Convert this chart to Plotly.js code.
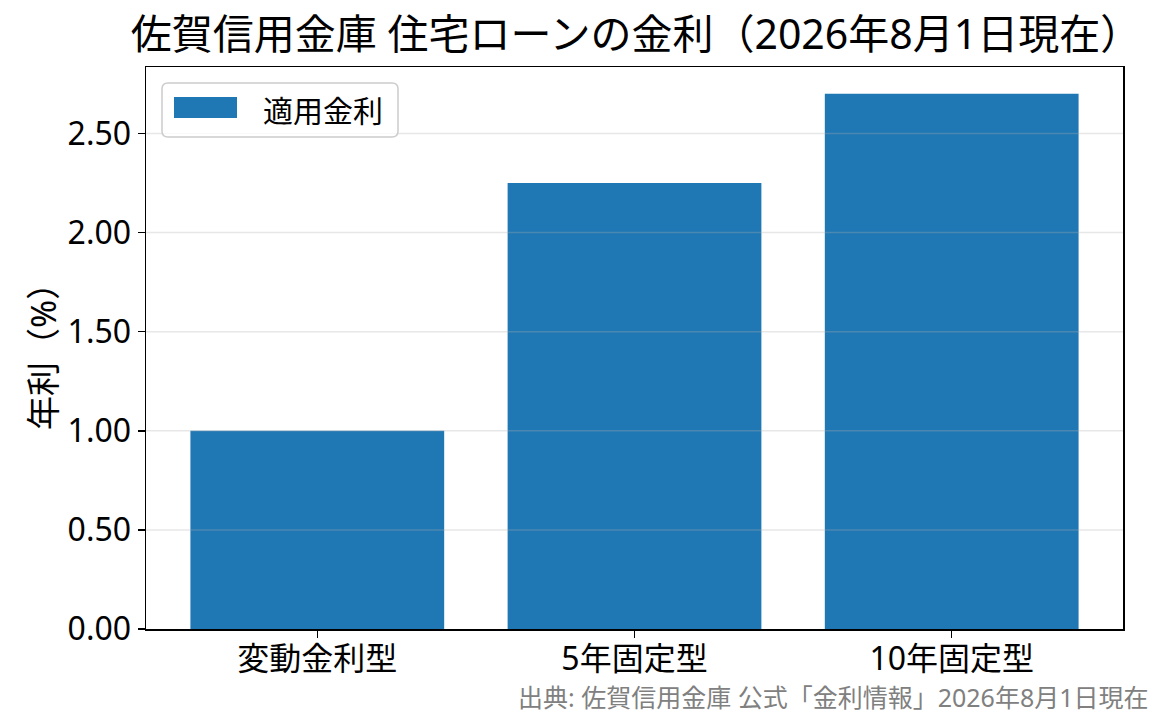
<!DOCTYPE html>
<html>
<head>
<meta charset="utf-8">
<script src="https://cdn.plot.ly/plotly-3.0.1.min.js"></script>
<style>
  html, body { margin: 0; padding: 0; background: #fff; }
  #chart { width: 1165px; height: 725px; }
</style>
</head>
<body>
<div id="chart"></div>
<script>
// data
var categories = ['変動金利型', '5年固定型', '10年固定型'];
var rates = [1.00, 2.25, 2.70];
var seriesName = '適用金利';
var yTicks = [0, 0.5, 1.0, 1.5, 2.0, 2.5];
var titleText = '佐賀信用金庫 住宅ローンの金利（2026年8月1日現在）';
var yTitle = '年利（%）';
var sourceText = '出典: 佐賀信用金庫 公式「金利情報」2026年8月1日現在';

var FONT = '"Noto Sans", "Noto Sans CJK JP", sans-serif';
var BLUE = '#1f77b4';

var W = 1165, H = 725;
var margin = {l: 146, r: 42, t: 67, b: 96};
var plotW = W - margin.l - margin.r;
var plotH = H - margin.t - margin.b;

// pixel -> paper helpers (for legend box placement only)
function px(x) { return (x - margin.l) / plotW; }
function py(y) { return (H - margin.b - y) / plotH; }

function roundedRect(x0, y0, x1, y1, r) {
  var rx = r / plotW, ry = r / plotH;
  var a = px(x0), b = px(x1), top = py(y0), bot = py(y1);
  return 'M' + (a + rx) + ',' + top +
    ' L' + (b - rx) + ',' + top +
    ' Q' + b + ',' + top + ' ' + b + ',' + (top - ry) +
    ' L' + b + ',' + (bot + ry) +
    ' Q' + b + ',' + bot + ' ' + (b - rx) + ',' + bot +
    ' L' + (a + rx) + ',' + bot +
    ' Q' + a + ',' + bot + ' ' + a + ',' + (bot + ry) +
    ' L' + a + ',' + (top - ry) +
    ' Q' + a + ',' + top + ' ' + (a + rx) + ',' + top + ' Z';
}

var trace = {
  type: 'bar',
  x: [0, 1, 2],
  y: rates,
  width: 0.8,
  name: seriesName,
  marker: {color: BLUE, line: {width: 0}},
  hoverinfo: 'x+y',
  showlegend: false
};

// grid lines drawn above the bars like the reference
var shapes = yTicks.slice(1).map(function (v) {
  return {
    type: 'line', xref: 'paper', yref: 'y',
    x0: 0, x1: 1, y0: v, y1: v,
    line: {color: 'rgba(176,176,176,0.3)', width: 1.5},
    layer: 'above'
  };
});

// legend box
shapes.push({
  type: 'path', xref: 'paper', yref: 'paper',
  path: roundedRect(162, 83, 398, 137, 6),
  fillcolor: 'rgba(255,255,255,0.8)',
  line: {color: '#cccccc', width: 1.5},
  layer: 'above'
});
shapes.push({
  type: 'rect', xref: 'paper', yref: 'paper',
  x0: px(174), x1: px(237), y0: py(118), y1: py(97),
  fillcolor: BLUE, line: {width: 0},
  layer: 'above'
});

var layout = {
  width: W,
  height: H,
  margin: margin,
  paper_bgcolor: '#ffffff',
  plot_bgcolor: '#ffffff',
  font: {family: FONT, color: '#000000', size: 32},
  showlegend: false,
  bargap: 0.2,
  title: {
    text: titleText,
    font: {family: FONT, size: 41, color: '#000000'},
    xref: 'container', x: 636 / W,
    yref: 'container', y: 1 - 35 / H, yanchor: 'middle'
  },
  xaxis: {
    range: [-0.54, 2.54],
    tickmode: 'array',
    tickvals: [0, 1, 2],
    ticktext: categories,
    showgrid: false,
    zeroline: false,
    showline: true, mirror: true,
    linecolor: '#000000', linewidth: 1.5,
    ticks: 'outside', ticklen: 7, tickwidth: 1.5, tickcolor: '#000000',
    tickfont: {family: FONT, size: 32, color: '#000000'},
    ticklabelstandoff: -6,
    fixedrange: true
  },
  yaxis: {
    range: [0, 2.835],
    tickmode: 'array',
    tickvals: yTicks,
    tickformat: '.2f',
    showgrid: false,
    zeroline: false,
    showline: true, mirror: true,
    linecolor: '#000000', linewidth: 1.5,
    ticks: 'outside', ticklen: 7, tickwidth: 1.5, tickcolor: '#000000',
    tickfont: {family: FONT, size: 32, color: '#000000'},
    title: {text: yTitle, font: {family: FONT, size: 34, color: '#000000'}, standoff: 0},
    fixedrange: true
  },
  shapes: shapes,
  annotations: [
    {
      xref: 'paper', yref: 'paper',
      x: px(261), y: py(110),
      xanchor: 'left', yanchor: 'middle',
      text: seriesName, showarrow: false,
      font: {family: FONT, size: 30, color: '#000000'}
    },
    {
      xref: 'paper', yref: 'paper',
      x: px(1151), y: py(697),
      xanchor: 'right', yanchor: 'middle',
      text: sourceText, showarrow: false,
      font: {family: FONT, size: 25, color: '#808080'}
    }
  ]
};

Plotly.newPlot('chart', [trace], layout, {displayModeBar: false, staticPlot: true});
</script>
</body>
</html>
